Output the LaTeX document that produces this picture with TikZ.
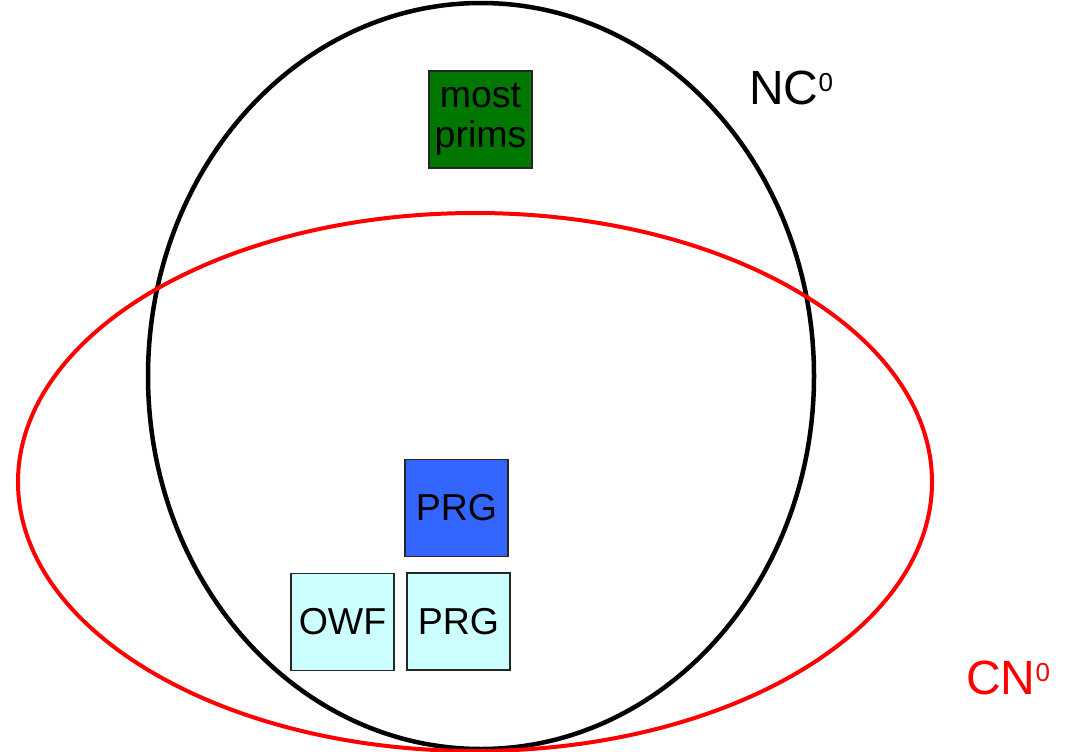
\documentclass[tikz,border=0pt]{standalone}
\usepackage{fontspec}
\setmainfont{Liberation Sans}
\begin{document}
\begin{tikzpicture}[x=1pt,y=-1pt,
  setbox/.style={draw=black!85, line width=1.5pt, minimum width=103pt, minimum height=97pt, inner sep=0pt, align=center, font=\fontsize{37.5}{40}\selectfont},
  setlabel/.style={font=\fontsize{48}{50}\selectfont, inner sep=0pt, anchor=base west}]
\useasboundingbox (0,0) rectangle (1068,752);
\definecolor{primgreen}{HTML}{007700}
\definecolor{prgblue}{HTML}{3366FF}
\definecolor{lightcyan}{HTML}{CCFFFF}
\draw[line width=4.5pt, black] (481,376) ellipse [x radius=333, y radius=373];
\draw[line width=4pt, red] (475,482) ellipse [x radius=457, y radius=269];
\node[setbox, fill=primgreen] (prims) at (480.5,119.5) {most\\prims};
\node[setbox, fill=prgblue] (prg1) at (456.5,508) {PRG};
\node[setbox, fill=lightcyan] (owf) at (342.5,622) {OWF};
\node[setbox, fill=lightcyan] (prg2) at (458.5,621.5) {PRG};
\node[setlabel] (nc) at (749,104) {NC\raisebox{13pt}{\fontsize{26}{26}\selectfont 0}};
\node[setlabel, text=red] (cn) at (966,694) {CN\raisebox{13pt}{\fontsize{26}{26}\selectfont 0}};
\end{tikzpicture}
\end{document}
